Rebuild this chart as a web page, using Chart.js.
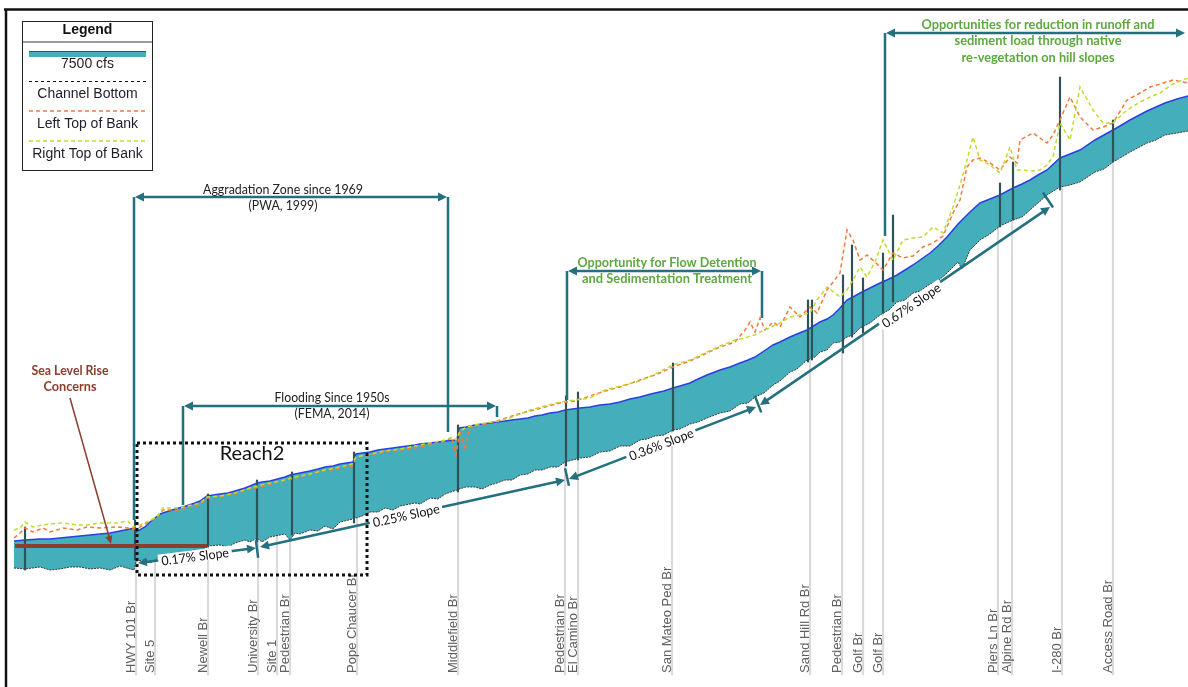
<!DOCTYPE html>
<html><head><meta charset="utf-8">
<script src="https://cdn.jsdelivr.net/npm/chart.js@4.4.1/dist/chart.umd.min.js"></script>
<style>html,body{margin:0;padding:0;background:#fff}#wrap{width:1188px;height:687px;position:relative}</style>
</head><body><div id="wrap"><canvas id="c"></canvas></div>
<script>
// ---- DATA (station in 100 ft, elevation in ft) ----
const profileStation = [14,25,40,50,60,70,80,90,100,110,120,130,134,136,145,150,160,175,183,195,200,207,220,228,235,245,250,257,262,270,285,290,295,300,310,318,325,333,340,353,356,362,370,378,385,393,400,415,420,430,438,445,457,459,466,475,482,490,497,505,512,520,528,535,542,550,558,565,580,590,600,610,620,630,640,647,655,664,673,680,690,698,707,720,730,740,748,755,764,773,780,790,797,807,815,820,827,833,840,847,853,860,870,880,889,897,905,913,920,930,938,947,958,962,970,980,990,1000,1013,1022,1030,1038,1047,1060,1070,1080,1095,1104,1113,1120,1130,1147,1156,1165,1177,1188];
const waterSurface = [59,60,61,61,62,63,64,65,66,67,69,71,72,68,73,78,86,91,93,97,99,104,106,107,109,112,114,117,118,119,123,125,126,127,129,131,133,134,136,138,146,147,148,150,151,152,153,155,156,157,158,159,160,172,173,175,176,177,178,179,180,181,182,184,185,187,188,190,192,193,195,196,198,201,203,205,207,209,212,214,217,221,225,230,233,237,240,243,249,255,258,263,266,270,275,278,281,285,292,300,303,307,312,317,321,325,330,335,340,347,354,363,376,380,388,397,401,405,412,416,420,425,430,442,446,450,460,465,470,474,480,489,493,497,501,504];
const channelBottom = [32,31,33,30,31,33,33,31,32,30,34,31,30,39,40,37,43,45,47,50,47,54,55,53,57,60,58,62,58,63,66,60,67,66,70,69,74,71,78,81,82,84,88,88,92,90,94,97,96,102,101,106,110,111,113,113,111,115,117,120,120,125,126,130,130,133,133,138,142,143,148,149,154,154,160,161,164,165,170,171,176,178,182,187,189,196,197,203,207,215,219,228,231,240,243,248,250,257,258,263,265,272,277,285,290,298,300,307,309,316,319,327,338,331,350,360,366,374,380,383,390,397,405,413,415,418,428,431,438,442,448,457,460,465,467,469];

const bankStation = [14,20,25,33,43,50,63,77,87,100,117,128,133,140,157,163,180,200,207,220,235,250,265,280,295,310,325,340,352,356,370,385,400,415,430,445,452,456,460,465,470,485,500,515,530,545,560,575,590,605,620,640,655,673,690,707,720,735,745,750,755,760,765,773,780,790,800,810,817,827,840,847,853,860,867,875,883,893,903,913,923,933,943,953,960,967,973,980,990,1000,1010,1017,1020,1033,1040,1047,1053,1060,1070,1080,1093,1103,1113,1127,1140,1150,1160,1173,1188];
const leftTopOfBank = [62,67,72,68,72,68,72,70,73,72,73,72,71,73,83,90,90,95,102,103,106,111,114,118,122,126,129,132,134,142,145,148,150,152,155,159,162,145,170,150,173,176,180,185,189,193,197,199,204,209,213,220,225,233,239,247,253,258,270,278,268,282,270,278,273,293,283,293,287,310,327,370,360,340,345,338,330,347,342,344,353,357,364,387,400,433,440,442,437,430,443,437,460,467,462,457,465,480,503,483,470,473,477,500,507,513,516,520,517];
const rightTopOfBank = [70,72,78,73,75,76,77,75,75,77,77,79,73,75,83,92,92,97,103,104,107,112,116,119,123,126,130,133,136,143,146,149,151,154,157,160,163,160,169,172,174,177,179,184,190,194,198,200,202,210,214,219,226,235,240,248,254,260,262,264,265,268,270,274,277,283,285,287,300,313,303,310,320,333,323,338,360,340,360,362,363,373,367,393,415,440,463,440,435,427,453,430,430,429,430,435,443,477,460,513,490,477,477,490,498,503,507,516,522];

const bridgeNames = ["HWY 101 Br","Site 5","Newell Br","University Br","Site 1","Pedestrian Br","Pope Chaucer Br","Middlefield Br","Pedestrian Br","El Camino Br","San Mateo Ped Br","Sand Hill Rd Br","Pedestrian Br","Golf Br","Golf Br","Piers Ln Br","Alpine Rd Br","I-280 Br","Access Road Br"];
const bridgeStation = [136,155,208,258,277,290,357,458,565,578,672,810,842,863,883,998,1012,1062,1113];

const pierStation = [25,135,208,257,292,354,458,566,578,673,808,812,843,852,863,883,893,1000,1013,1060,1113];
const pierLow  = [30,40,53,58,65,77,108,134,140,169,238,240,247,263,267,287,298,373,380,410,438];
const pierHigh = [73,80,106,120,128,148,175,204,208,237,300,300,325,355,322,347,385,417,438,523,480];

const labelBaseElevation = -75;

// ---- helpers ----
function interp(xs, ys, s){
  if (s <= xs[0]) return ys[0];
  for (let i=1;i<xs.length;i++){ if (s <= xs[i]) { const t=(s-xs[i-1])/(xs[i]-xs[i-1]); return ys[i-1]+t*(ys[i]-ys[i-1]); } }
  return ys[ys.length-1];
}
const zip = (xs, ys) => xs.map((x,i)=>({x, y: ys[i]}));

const TEAL = '#44AEBA', BLUE = '#2B3FE0', ANN = '#23707E', GREEN = '#5EA83E', BROWN = '#8B3D2E';

// annotation layout (data units)
const brackets = [
  {l:134, r:448, top:403, lb:80, rb:168, color:'#222', bold:false, texts:[['Aggradation Zone since 1969',283,410,160],['(PWA, 1999)',283,394,69]]},
  {l:183, r:497, top:194, lb:95, rb:183, color:'#222', bold:false, texts:[['Flooding Since 1950s',332,202,115],['(FEMA, 2014)',332,186,75]]},
  {l:567, r:762, top:329, lb:200, rb:282, color:GREEN, bold:true, texts:[['Opportunity for Flow Detention',667,337,179],['and Sedimentation Treatment',667,321,170]]},
  {l:885, r:1186, top:567, lb:364, rb:null, color:GREEN, bold:true, texts:[['Opportunities for reduction in runoff and',1038,575,233],['sediment load through native',1038,559,167],['re-vegetation on hill slopes',1038,542,153]]}
];
const slopes = [
  {a:[138,37], b:[256,52], text:'0.17% Slope', c:[195,44]},
  {a:[260,53], b:[565,120], text:'0.25% Slope', c:[406,85]},
  {a:[569,121], b:[756,193], text:'0.36% Slope', c:[661,156]},
  {a:[760,195], b:[1050,393], text:'0.67% Slope', c:[911,295]}
];
const slopeTicks = [[257,51,0],[567,123,1],[758,196,2],[1048,400,3]];

function arrowHead(ctx,x1,y1,x2,y2,len,wid){
  const a=Math.atan2(y2-y1,x2-x1);
  ctx.beginPath();
  ctx.moveTo(x2,y2);
  ctx.lineTo(x2-len*Math.cos(a)+wid*Math.sin(a), y2-len*Math.sin(a)-wid*Math.cos(a));
  ctx.lineTo(x2-len*Math.cos(a)-wid*Math.sin(a), y2-len*Math.sin(a)+wid*Math.cos(a));
  ctx.closePath(); ctx.fill();
}

const overlay = {
  id:'overlay',
  afterDatasetsDraw(chart){
    const ctx = chart.ctx, X = chart.scales.x, Y = chart.scales.y;
    const px = s => X.getPixelForValue(s), py = e => Y.getPixelForValue(e);
    ctx.save();
    // frame
    ctx.strokeStyle='#111'; ctx.lineWidth=2.5;
    ctx.beginPath(); ctx.moveTo(4,9.5); ctx.lineTo(1188,9.5); ctx.moveTo(6,9); ctx.lineTo(6,687); ctx.stroke();

    // bridge labels
    ctx.fillStyle='#606060'; ctx.font='13px "Liberation Sans", Arial, sans-serif';
    ctx.textAlign='left'; ctx.textBaseline='middle';
    bridgeNames.forEach((n,i)=>{
      ctx.save(); ctx.translate(px(bridgeStation[i])-5, py(labelBaseElevation)-2); ctx.rotate(-Math.PI/2);
      ctx.fillText(n,0,0); ctx.restore();
    });

    // brackets
    brackets.forEach(b=>{
      ctx.strokeStyle=ANN; ctx.fillStyle=ANN; ctx.lineWidth=2.5; ctx.setLineDash([]);
      const L=px(b.l), R=px(b.r), T=py(b.top);
      ctx.beginPath();
      ctx.moveTo(L,T); ctx.lineTo(L,py(b.lb));
      if (b.rb!==null){ ctx.moveTo(R,T); ctx.lineTo(R,py(b.rb)); }
      ctx.moveTo(L+6,T); ctx.lineTo(R-6,T);
      ctx.stroke();
      arrowHead(ctx,L+20,T,L+1,T,9,4.5); arrowHead(ctx,R-20,T,R-1,T,9,4.5);
      ctx.fillStyle=b.color; ctx.textAlign='center'; ctx.textBaseline='middle';
      ctx.font=(b.bold?'bold ':'')+'13px Lato, "Open Sans", sans-serif';
      b.texts.forEach(t=>ctx.fillText(t[0],px(t[1]),py(t[2]),t[3]));
    });

    // slopes
    slopes.forEach(s=>{
      const x1=px(s.a[0]), y1=py(s.a[1]), x2=px(s.b[0]), y2=py(s.b[1]);
      ctx.strokeStyle=ANN; ctx.fillStyle=ANN; ctx.lineWidth=2.5;
      const ang=Math.atan2(y2-y1,x2-x1);
      ctx.beginPath(); ctx.moveTo(x1+6*Math.cos(ang),y1+6*Math.sin(ang)); ctx.lineTo(x2-6*Math.cos(ang),y2-6*Math.sin(ang)); ctx.stroke();
      arrowHead(ctx,x2,y2,x1,y1,9,4.5); arrowHead(ctx,x1,y1,x2,y2,9,4.5);
      ctx.save(); ctx.translate(px(s.c[0]),py(s.c[1])); ctx.rotate(ang);
      ctx.font='13px Lato, "Open Sans", sans-serif';
      const w=Math.min(ctx.measureText(s.text).width,68);
      ctx.fillStyle='#fff'; ctx.fillRect(-w/2-3,-6,w+6,12);
      ctx.fillStyle='#111'; ctx.textAlign='center'; ctx.textBaseline='middle';
      ctx.fillText(s.text,0,1,68); ctx.restore();
    });
    slopeTicks.forEach(t=>{
      const s=slopes[t[2]];
      const ang=Math.atan2(py(s.b[1])-py(s.a[1]),px(s.b[0])-px(s.a[0]))+Math.PI/2;
      const cx=px(t[0]), cy=py(t[1]);
      ctx.strokeStyle=ANN; ctx.lineWidth=2.5;
      ctx.beginPath(); ctx.moveTo(cx-9*Math.cos(ang),cy-9*Math.sin(ang)); ctx.lineTo(cx+9*Math.cos(ang),cy+9*Math.sin(ang)); ctx.stroke();
    });

    // sea level rise
    ctx.strokeStyle=BROWN; ctx.fillStyle=BROWN;
    ctx.lineWidth=4; ctx.beginPath(); ctx.moveTo(px(15),py(54)); ctx.lineTo(px(207),py(54)); ctx.stroke();
    ctx.lineWidth=1.5; ctx.beginPath(); ctx.moveTo(px(70),py(202)); ctx.lineTo(px(110),py(60)); ctx.stroke();
    arrowHead(ctx,px(70),py(202),px(111),py(56),8,3.5);
    ctx.font='bold 13px Lato, "Open Sans", sans-serif'; ctx.textAlign='center'; ctx.textBaseline='middle';
    ctx.fillText('Sea Level Rise',px(70),py(229),77); ctx.fillText('Concerns',px(70),py(213),53);

    // Reach2 box
    ctx.strokeStyle='#111'; ctx.lineWidth=3; ctx.setLineDash([3,3]);
    ctx.strokeRect(px(137),py(157),px(367)-px(137),py(25)-py(157));
    ctx.setLineDash([]);
    ctx.fillStyle='#111'; ctx.font='20px Lato, "Open Sans", sans-serif';
    ctx.fillText('Reach2',px(252),py(146),67);

    // legend box
    ctx.strokeStyle='#222'; ctx.lineWidth=1; ctx.strokeRect(22.5,21.5,130,149);
    ctx.fillStyle='#111'; ctx.font='bold 14px "Liberation Sans", Arial, sans-serif';
    ctx.fillText('Legend',87.5,30.5);
    ctx.strokeStyle='#7a7a7a'; ctx.lineWidth=1.5; ctx.beginPath(); ctx.moveTo(23,42); ctx.lineTo(152,42); ctx.stroke();
    ctx.fillStyle=TEAL; ctx.fillRect(29,51.5,117,5.5);
    ctx.strokeStyle=BLUE; ctx.lineWidth=1.2; ctx.beginPath(); ctx.moveTo(29,51.5); ctx.lineTo(146,51.5); ctx.stroke();
    ctx.font='14px "Liberation Sans", Arial, sans-serif'; ctx.fillStyle='#1e1e2a';
    ctx.fillText('7500 cfs',87.5,64.5);
    ctx.lineWidth=1; ctx.strokeStyle='#111'; ctx.setLineDash([3,3]);
    ctx.beginPath(); ctx.moveTo(29,81.5); ctx.lineTo(146,81.5); ctx.stroke();
    ctx.fillText('Channel Bottom',87.5,94.5);
    ctx.lineWidth=1.5; ctx.strokeStyle='#F47A3A'; ctx.setLineDash([4,3]);
    ctx.beginPath(); ctx.moveTo(29,111); ctx.lineTo(147,111); ctx.stroke();
    ctx.fillText('Left Top of Bank',87.5,124.5);
    ctx.strokeStyle='#BEDD2A';
    ctx.beginPath(); ctx.moveTo(29,141); ctx.lineTo(147,141); ctx.stroke();
    ctx.setLineDash([]);
    ctx.fillText('Right Top of Bank',87.5,154.5);
    ctx.restore();
  }
};

new Chart(document.getElementById('c'), {
  type:'line',
  data:{
    datasets:[
      {type:'bar', label:'bridge lines', data: bridgeStation.map(s=>({x:s, y:[labelBaseElevation, interp(profileStation, channelBottom, s)]})),
        backgroundColor:'#dadada', barThickness:1.5, grouped:false, order:10},
      {label:'Channel Bottom', data: zip(profileStation, channelBottom), borderColor:'#3a3a3a', borderWidth:1, borderDash:[2,1], pointRadius:0, fill:false, order:7},
      {label:'7500 cfs', data: zip(profileStation, waterSurface), borderColor:BLUE, borderWidth:1.5, pointRadius:0, backgroundColor:TEAL, fill:1, order:8},
      {type:'bar', label:'bridges', data: pierStation.map((s,i)=>({x:s, y:[pierLow[i], pierHigh[i]]})),
        backgroundColor:'#30505a', barThickness:1.5, grouped:false, order:5},
      {label:'Left Top of Bank', data: zip(bankStation, leftTopOfBank), borderColor:'#F47A3A', borderWidth:1.5, borderDash:[4,3], pointRadius:0, fill:false, order:3},
      {label:'Right Top of Bank', data: zip(bankStation, rightTopOfBank), borderColor:'#BEDD2A', borderWidth:1.5, borderDash:[4,3], pointRadius:0, fill:false, order:2}
    ]
  },
  options:{
    responsive:true, maintainAspectRatio:false, animation:false,
    layout:{padding:0},
    scales:{
      x:{type:'linear', min:0, max:1188, display:false, offset:false},
      y:{type:'linear', min:-87, max:600, display:false}
    },
    plugins:{legend:{display:false}, tooltip:{enabled:false}}
  },
  plugins:[overlay]
});
</script></body></html>
